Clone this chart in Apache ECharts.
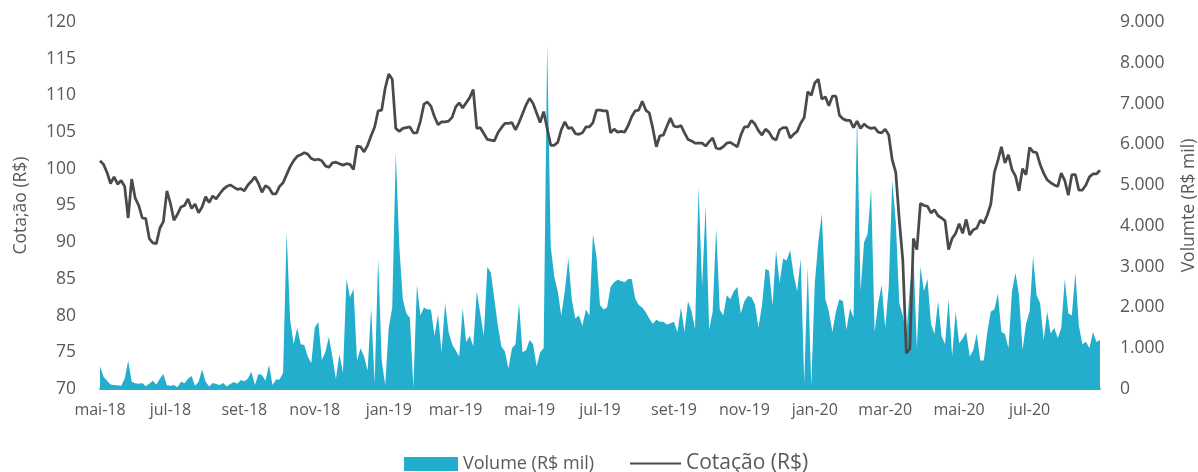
<!DOCTYPE html>
<html>
<head>
<meta charset="utf-8">
<script src="https://cdn.jsdelivr.net/npm/echarts@6/dist/echarts.min.js"></script>
<style>
html,body{margin:0;padding:0;background:#fff;}
#chart{width:1198px;height:472px;}
</style>
</head>
<body>
<div id="chart"></div>
<script>
// Sampling grid: one point every 3 calendar days, 2018-05-02 .. 2020-08-31
const startDate = Date.UTC(2018, 4, 2);
const stepDays = 3;
const monthNames = ['jan','fev','mar','abr','mai','jun','jul','ago','set','out','nov','dez'];

// Cotação (R$)
const price = [
101.1,100.6,99.5,98.0,98.9,97.9,98.4,97.6,93.3,98.6,
96.0,95.0,93.3,93.2,90.5,89.9,89.8,91.9,92.8,97.0,
95.3,93.0,93.8,94.8,95.0,95.9,94.6,95.2,94.0,94.8,
96.2,95.4,96.3,95.9,96.6,97.2,97.6,97.8,97.5,97.2,
97.3,97.0,97.8,98.3,98.9,98.0,96.8,97.7,97.4,96.6,
96.6,97.6,98.1,99.2,100.3,101.1,101.7,101.9,102.2,102.0,
101.4,101.2,101.3,101.1,100.4,100.2,100.8,100.9,100.7,100.5,
100.7,100.6,99.9,103.1,103.0,102.3,103.2,104.5,105.7,107.9,
108.0,111.0,112.9,112.2,105.5,105.1,105.5,105.6,105.7,104.9,
104.9,106.5,108.8,109.1,108.5,107.1,106.0,106.4,106.4,106.5,
107.0,108.4,109.0,108.3,109.0,109.7,110.8,105.5,105.6,104.8,
104.0,103.9,103.8,104.9,105.6,106.2,106.2,106.3,105.3,106.3,
107.5,108.7,109.6,108.9,107.6,106.3,107.8,105.5,103.2,103.2,
103.6,105.3,106.4,105.5,105.6,104.8,104.7,104.9,105.7,105.7,
106.3,108.0,108.0,107.9,107.9,104.9,105.4,105.0,105.1,105.0,
105.9,107.1,107.9,108.0,109.2,108.0,107.6,105.5,103.0,104.5,
104.6,105.8,106.9,105.8,105.7,105.9,104.9,104.0,103.8,103.5,
103.5,103.5,103.1,103.7,104.2,102.8,102.7,103.0,103.5,103.6,
103.3,103.0,104.6,105.7,105.7,106.6,106.1,105.2,104.6,105.4,
105.0,104.2,103.9,105.3,105.6,105.6,104.2,104.7,105.1,106.2,
107.0,110.5,110.0,111.7,112.2,109.5,109.8,108.6,109.9,109.9,
107.3,106.8,106.6,106.6,105.6,106.5,105.5,106.1,105.7,105.5,
105.6,105.0,104.9,105.4,104.6,101.2,99.5,93.0,87.5,74.9,
75.5,90.5,89.0,95.3,95.0,94.9,94.0,94.4,93.6,93.3,
92.9,89.0,90.5,91.2,92.5,91.2,93.1,91.0,91.7,91.9,
93.0,92.6,93.7,95.2,99.5,101.1,103.0,100.8,101.9,99.9,
99.0,97.0,100.0,99.2,102.9,102.3,102.2,100.6,99.4,98.5,
98.1,97.8,97.6,99.4,98.4,96.4,99.2,99.2,97.1,97.1,
97.8,98.9,99.3,99.3,99.8
];

// Volume (R$ mil)
const volume = [
550,300,200,110,100,90,80,250,690,180,
140,130,150,70,130,200,110,250,370,90,
80,100,40,180,140,250,320,80,180,480,
180,60,150,120,100,150,60,120,170,130,
220,190,260,420,100,370,345,200,590,100,
230,230,400,3850,1700,1100,1500,1100,1080,800,
630,1500,1650,710,900,1280,800,250,860,400,
2700,2250,2450,700,1000,800,450,2000,150,3200,
700,100,1500,2000,5800,3500,2200,1850,1750,50,
2550,1800,2000,1950,1950,1300,1830,900,2100,1400,
1100,950,800,1980,1150,1300,1050,2400,1850,1300,
3000,2850,2200,1550,1040,920,500,1000,1100,2100,
900,950,1200,1100,550,900,1000,8450,3500,2760,
2400,1800,2400,3200,2180,1730,1800,1550,1950,1800,
3800,3250,2060,1950,2000,2500,2620,2680,2650,2620,
2700,2700,2220,2060,2000,1880,1730,1600,1700,1650,
1650,1580,1610,1650,1400,2000,1400,2150,1900,1470,
4950,2500,4500,1450,1900,3950,1950,1800,2300,2200,
2400,2500,1850,2150,2280,2250,2080,1500,2050,2950,
2900,2050,3400,2600,3200,3150,3400,2800,2400,3200,
150,3000,80,2600,3600,4300,2200,1900,1400,1900,
2200,2150,1450,1980,1750,6700,2400,3600,3800,4900,
1400,2100,2550,1500,2500,5100,4100,2100,1800,1300,
2500,3300,1000,3000,2400,2700,1600,1350,2150,1300,
1100,2200,800,1900,1120,1240,1400,800,950,1360,
700,700,1400,1900,1950,2340,1400,1350,1000,2400,
2850,2300,956,1600,1900,3250,2300,2100,1200,1900,
1360,1500,1250,1500,2700,1855,1800,2850,1550,1100,
1160,1000,1400,1150,1200
];

const leftTicks = {min: 70, max: 120, interval: 5};
const rightTicks = {min: 0, max: 9000, interval: 1000};

const categories = [];
const monthKeys = [];
for (let i = 0; i < price.length; i++) {
  const d = new Date(startDate + i * stepDays * 86400000);
  const m = d.getUTCMonth(), y = d.getUTCFullYear();
  categories.push(monthNames[m] + '-' + String(y).slice(2));
  monthKeys.push(y * 12 + m);
}
function showLabel(idx) {
  if (idx !== 0 && monthKeys[idx] === monthKeys[idx - 1]) return false;
  return (monthKeys[idx] % 12) % 2 === 0; // jan, mar, mai, jul, set, nov
}
function thousands(v) { return String(v).replace(/\B(?=(\d{3})+(?!\d))/g, '.'); }

const textColor = '#595959';
const font = 'Open Sans';
const chart = echarts.init(document.getElementById('chart'), null, {renderer: 'canvas'});
chart.setOption({
  animation: false,
  backgroundColor: '#ffffff',
  textStyle: {fontFamily: font, color: textColor},
  grid: {left: 100, right: 98, top: 22, bottom: 83, containLabel: false, outerBoundsMode: 'none'},
  legend: [
    {
      data: ['Volume (R$ mil)'],
      left: 404, top: 455, padding: 0,
      icon: 'rect', itemWidth: 54, itemHeight: 14, itemGap: 0,
      textStyle: {fontFamily: font, fontSize: 18, color: textColor}
    },
    {
      data: ['Cotação (R$)'],
      left: 630, top: 453, padding: 0,
      icon: 'rect', itemWidth: 51, itemHeight: 2, itemGap: 0,
      textStyle: {fontFamily: font, fontSize: 21, color: textColor}
    }
  ],
  xAxis: {
    type: 'category',
    data: categories,
    boundaryGap: false,
    axisLine: {show: true, lineStyle: {color: '#8c8c8c', width: 2}},
    axisTick: {show: false},
    splitLine: {show: false},
    axisLabel: {
      interval: function (idx) { return showLabel(idx); },
      color: textColor, fontFamily: font, fontSize: 16, margin: 13,
      hideOverlap: false
    }
  },
  yAxis: [
    {
      type: 'value',
      min: leftTicks.min, max: leftTicks.max, interval: leftTicks.interval,
      position: 'left',
      name: 'Cota;ão (R$)', nameLocation: 'middle', nameGap: 70, nameRotate: 90,
      nameTextStyle: {color: textColor, fontFamily: font, fontSize: 17.5},
      axisLine: {show: false}, axisTick: {show: false}, splitLine: {show: false},
      axisLabel: {color: textColor, fontFamily: font, fontSize: 17.5, margin: 24}
    },
    {
      type: 'value',
      min: rightTicks.min, max: rightTicks.max, interval: rightTicks.interval,
      position: 'right',
      name: 'Volumte (R$ mil)', nameLocation: 'middle', nameGap: 80, nameRotate: 90,
      nameTextStyle: {color: textColor, fontFamily: font, fontSize: 17.5},
      axisLine: {show: false}, axisTick: {show: false}, splitLine: {show: false},
      axisLabel: {color: textColor, fontFamily: font, fontSize: 17.5, margin: 20,
        formatter: thousands}
    }
  ],
  series: [
    {
      name: 'Volume (R$ mil)',
      type: 'line',
      yAxisIndex: 1,
      data: volume,
      symbol: 'none',
      showSymbol: false,
      itemStyle: {color: '#23AECE'},
      lineStyle: {width: 0, color: '#23AECE'},
      areaStyle: {color: '#23AECE', opacity: 1},
      z: 1
    },
    {
      name: 'Cotação (R$)',
      type: 'line',
      yAxisIndex: 0,
      data: price,
      symbol: 'none',
      showSymbol: false,
      itemStyle: {color: '#4a4a4a'},
      lineStyle: {width: 2.75, color: '#4a4a4a'},
      z: 3
    }
  ]
});
</script>
</body>
</html>
